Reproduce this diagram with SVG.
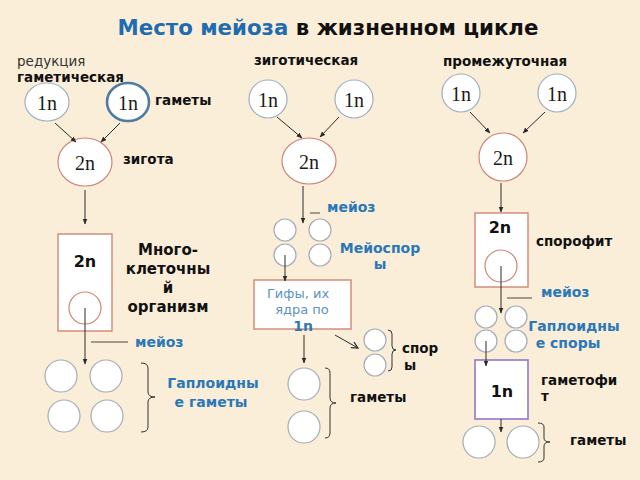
<svg xmlns="http://www.w3.org/2000/svg" width="640" height="480" viewBox="0 0 640 480">
<defs>
<marker id="ah" viewBox="0 0 10 10" refX="9" refY="5" markerWidth="6" markerHeight="6" orient="auto" markerUnits="userSpaceOnUse">
<path d="M0,1 L10,5 L0,9 Z" fill="#2a2a2a"/>
</marker>
<marker id="chev" viewBox="0 0 10 10" refX="9" refY="5" markerWidth="8" markerHeight="8" orient="auto" markerUnits="userSpaceOnUse">
<path d="M1,1 L9,5 L1,9" fill="none" stroke="#2a2a2a" stroke-width="1.5"/>
</marker>
<style>
.bg{fill:#faeed8}
.hap{fill:#fff;stroke:#9db0c4;stroke-width:1.2}
.hapb{fill:#fff;stroke:#4f7aa6;stroke-width:2.6}
.dip{fill:#fff;stroke:#cf8676;stroke-width:1.2}
.cell{fill:#fff;stroke:#a4adb6;stroke-width:1.2}
.box{fill:#fff;stroke:#cf8676;stroke-width:1.4}
.pbox{fill:#fff;stroke:#9477c9;stroke-width:1.6}
.ser{font-family:"Liberation Serif","Times New Roman",serif;font-size:20px;fill:#1a1a1a;text-anchor:middle}
.lbl{font-family:"DejaVu Sans",Verdana,sans-serif;font-size:13.5px;font-weight:bold;fill:#111}
.lbln{font-family:"DejaVu Sans",Verdana,sans-serif;font-size:13.5px;fill:#333}
.blue{font-family:"DejaVu Sans",Verdana,sans-serif;font-size:14px;font-weight:bold;fill:#2a78b8}
.lb{font-family:"DejaVu Sans",Verdana,sans-serif;font-size:13px;fill:#5b93c0}
.big{font-family:"DejaVu Sans",Verdana,sans-serif;font-size:16px;font-weight:bold;fill:#111;text-anchor:middle}
.org{font-family:"DejaVu Sans",Verdana,sans-serif;font-size:15px;font-weight:bold;fill:#111;text-anchor:middle}
.con{stroke:#2a2a2a;stroke-width:1;fill:none}
.brace{stroke:#333;stroke-width:1;fill:none}
.tick{stroke:#444;stroke-width:1}
</style>
</defs>
<rect class="bg" x="0" y="0" width="640" height="480"/>

<g id="title">
<text x="328" y="35" font-family="DejaVu Sans, Verdana, sans-serif" font-size="21.3" font-weight="bold" text-anchor="middle"><tspan fill="#1f6cae">Место мейоза</tspan><tspan fill="#111"> в жизненном цикле</tspan></text>
</g>

<g id="headings">
<text class="lbln" x="17" y="66">редукция</text>
<text class="lbl" x="17" y="82">гаметическая</text>
<text class="lbl" x="254" y="65">зиготическая</text>
<text class="lbl" x="443" y="66">промежуточная</text>
</g>

<!-- left column -->
<g id="L_g1"><ellipse class="hap" cx="47" cy="102" rx="22" ry="19"/><text class="ser" x="47" y="110">1n</text></g>
<g id="L_g2"><ellipse class="hapb" cx="128" cy="102" rx="21" ry="19"/><text class="ser" x="128" y="110">1n</text></g>
<g id="L_gam_lbl"><text class="lbl" x="155" y="105">гаметы</text></g>
<g id="L_zyg"><ellipse class="dip" cx="85" cy="162" rx="27" ry="24"/><text class="ser" x="85" y="170">2n</text></g>
<g id="L_zyg_lbl"><text class="lbl" x="123" y="164">зигота</text></g>
<g id="L_org"><rect class="box" x="58" y="234" width="54" height="97"/><text class="big" x="85" y="267">2n</text><circle class="dip" cx="85" cy="308" r="16"/></g>
<g id="L_org_lbl"><text class="org" x="168" y="255">Много-</text><text class="org" x="168" y="274">клеточны</text><text class="org" x="168" y="293">й</text><text class="org" x="168" y="312">организм</text></g>
<g id="L_meiosis"><line class="tick" x1="91" y1="342" x2="128" y2="342"/><text class="blue" x="135" y="347">мейоз</text></g>
<g id="L_gametes"><circle class="cell" cx="61" cy="376" r="16"/><circle class="cell" cx="106" cy="376" r="16"/><circle class="cell" cx="64" cy="416" r="16"/><circle class="cell" cx="107" cy="416" r="16"/></g>
<g id="L_gametes_lbl"><path class="brace" d="M141 363 Q148 363 148 368 L148 392 Q148 397 155 397 Q148 397 148 402 L148 427 Q148 432 141 432"/><text class="blue" x="213" y="388" text-anchor="middle">Гаплоидны</text><text class="blue" x="211" y="407" text-anchor="middle">е гаметы</text></g>

<!-- middle column -->
<g id="M_g1"><ellipse class="hap" cx="268" cy="99" rx="19" ry="19"/><text class="ser" x="268" y="107">1n</text></g>
<g id="M_g2"><ellipse class="hap" cx="354" cy="99" rx="19" ry="19"/><text class="ser" x="354" y="107">1n</text></g>
<g id="M_zyg"><ellipse class="dip" cx="309" cy="161" rx="27" ry="23"/><text class="ser" x="309" y="169">2n</text></g>
<g id="M_meiosis"><line class="tick" x1="310" y1="213" x2="320" y2="213"/><text class="blue" x="327" y="212">мейоз</text></g>
<g id="M_spores"><circle class="cell" cx="285" cy="230" r="11"/><circle class="cell" cx="320" cy="230" r="11"/><circle class="cell" cx="285" cy="255" r="11"/><circle class="cell" cx="320" cy="255" r="11"/></g>
<g id="M_spores_lbl"><text class="blue" x="380" y="253" text-anchor="middle">Мейоспор</text><text class="blue" x="380" y="269" text-anchor="middle">ы</text></g>
<g id="M_hyph"><rect class="box" x="254" y="280" width="97" height="49"/><text class="lb" x="298" y="298" text-anchor="middle">Гифы, их</text><text class="lb" x="302" y="314" text-anchor="middle">ядра по</text><text class="blue" x="303" y="331" text-anchor="middle" font-size="13">1n</text></g>
<g id="M_spores2"><circle class="cell" cx="375" cy="340" r="11"/><circle class="cell" cx="375" cy="365" r="11"/><path class="brace" d="M388 330 Q392 330 392 334 L392 346 Q392 350 396 350 Q392 350 392 354 L392 367 Q392 371 388 371"/><text class="lbl" x="402" y="353">спор</text><text class="lbl" x="410" y="370" text-anchor="middle">ы</text></g>
<g id="M_gametes"><circle class="cell" cx="304" cy="384" r="16"/><circle class="cell" cx="304" cy="427" r="16"/><path class="brace" d="M325 368 Q330 368 330 373 L330 398 Q330 403 336 403 Q330 403 330 408 L330 433 Q330 438 325 438"/><text class="lbl" x="350" y="402">гаметы</text></g>

<!-- right column -->
<g id="R_g1"><ellipse class="hap" cx="461" cy="93" rx="19" ry="19"/><text class="ser" x="461" y="101">1n</text></g>
<g id="R_g2"><ellipse class="hap" cx="557" cy="93" rx="19" ry="19"/><text class="ser" x="557" y="101">1n</text></g>
<g id="R_zyg"><ellipse class="dip" cx="503" cy="157" rx="24" ry="24"/><text class="ser" x="503" y="165">2n</text></g>
<g id="R_spor"><rect class="box" x="475" y="213" width="53" height="74"/><text class="big" x="500" y="233">2n</text><circle class="dip" cx="501" cy="266" r="16"/></g>
<g id="R_spor_lbl"><text class="lbl" x="536" y="246">спорофит</text></g>
<g id="R_meiosis"><line class="tick" x1="507" y1="298" x2="532" y2="298"/><text class="blue" x="541" y="297">мейоз</text></g>
<g id="R_spores"><circle class="cell" cx="486" cy="317" r="11"/><circle class="cell" cx="516" cy="317" r="11"/><circle class="cell" cx="486" cy="341" r="11"/><circle class="cell" cx="516" cy="341" r="11"/></g>
<g id="R_spores_lbl"><text class="blue" x="574" y="331" text-anchor="middle" font-size="12">Гаплоидны</text><text class="blue" x="568" y="348" text-anchor="middle" font-size="12">е споры</text></g>
<g id="R_gam"><rect class="pbox" x="475" y="360" width="53" height="59"/><text class="big" x="502" y="397" font-size="17">1n</text></g>
<g id="R_gam_lbl"><text class="lbl" x="541" y="385" font-size="12">гаметофи</text><text class="lbl" x="541" y="401" font-size="12">т</text></g>
<g id="R_gametes"><circle class="cell" cx="479" cy="442" r="16"/><circle class="cell" cx="523" cy="442" r="16"/><path class="brace" d="M538 423 Q544 423 544 427 L544 438 Q544 442 550 442 Q544 442 544 446 L544 458 Q544 462 538 462"/><text class="lbl" x="570" y="445" font-size="13">гаметы</text></g>

<g id="connectors">
<line class="con" x1="55" y1="123" x2="76" y2="142" marker-end="url(#ah)"/>
<line class="con" x1="120" y1="123" x2="101" y2="142" marker-end="url(#ah)"/>
<line class="con" x1="85" y1="190" x2="85" y2="224" marker-end="url(#ah)"/>
<line class="con" x1="85" y1="308" x2="85" y2="364" marker-end="url(#ah)"/>
<line class="con" x1="277" y1="117" x2="302" y2="138" marker-end="url(#ah)"/>
<line class="con" x1="339" y1="117" x2="320" y2="137" marker-end="url(#ah)"/>
<line class="con" x1="303" y1="186" x2="303" y2="223" marker-end="url(#ah)"/>
<line class="con" x1="285" y1="255" x2="285" y2="281" marker-end="url(#ah)"/>
<line class="con" x1="304" y1="335" x2="304" y2="363" marker-end="url(#ah)"/>
<line class="con" x1="335" y1="335" x2="358" y2="348" marker-end="url(#chev)"/>
<line class="con" x1="470" y1="112" x2="490" y2="133" marker-end="url(#ah)"/>
<line class="con" x1="545" y1="112" x2="523" y2="133" marker-end="url(#ah)"/>
<line class="con" x1="501" y1="183" x2="501" y2="212" marker-end="url(#ah)"/>
<line class="con" x1="501" y1="266" x2="501" y2="313" marker-end="url(#ah)"/>
<line class="con" x1="486" y1="341" x2="486" y2="366" marker-end="url(#ah)"/>
<line class="con" x1="501" y1="419" x2="501" y2="432" marker-end="url(#ah)"/>
</g>
</svg>
